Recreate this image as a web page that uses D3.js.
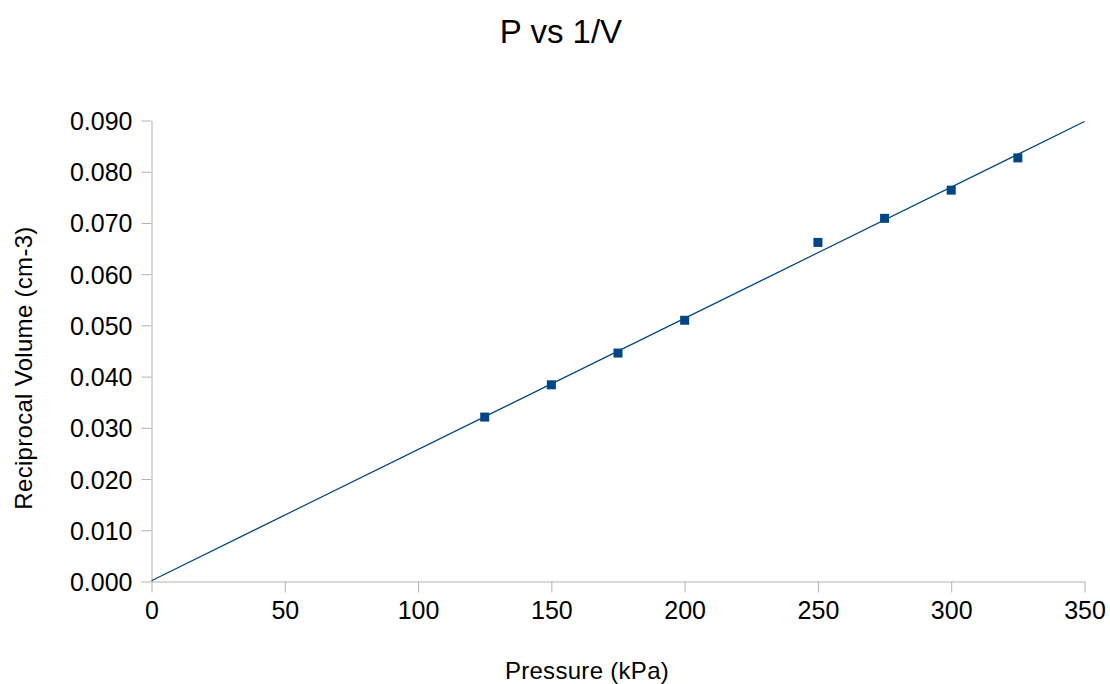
<!DOCTYPE html>
<html>
<head>
<meta charset="utf-8">
<script src="https://cdn.jsdelivr.net/npm/d3@7"></script>
<style>
  body { margin: 0; background: #fff; }
  svg { display: block; font-family: "Liberation Sans", Arial, sans-serif; }
</style>
</head>
<body>
<svg id="chart"></svg>
<script>
// data
const pressure = [125, 150, 175, 200, 250, 275, 300, 325];
const recipVolume = [0.0321, 0.0384, 0.0446, 0.0510, 0.0662, 0.0709, 0.0764, 0.0827];
const xTicks = [0, 50, 100, 150, 200, 250, 300, 350];
const yTicks = [0, 0.01, 0.02, 0.03, 0.04, 0.05, 0.06, 0.07, 0.08, 0.09];

const width = 1110;
const height = 684;
const margin = {top: 120.5, right: 25.5, bottom: 102.5, left: 151.5};

const svg = d3.select("#chart")
    .attr("width", width)
    .attr("height", height);

const xScale = d3.scaleLinear()
    .domain([0, 350])
    .range([margin.left, width - margin.right]);

const yScale = d3.scaleLinear()
    .domain([0, 0.09])
    .range([height - margin.bottom, margin.top]);

// x axis
const xAxis = d3.axisBottom(xScale)
    .tickValues(xTicks)
    .tickFormat(d3.format("d"))
    .tickSize(11)
    .tickSizeOuter(0)
    .tickPadding(9);
const gx = svg.append("g")
    .attr("transform", "translate(0," + (height - margin.bottom) + ")")
    .call(xAxis);

// y axis
const yAxis = d3.axisLeft(yScale)
    .tickValues(yTicks)
    .tickFormat(d3.format(".3f"))
    .tickSize(10)
    .tickSizeOuter(0)
    .tickPadding(9);
const gy = svg.append("g")
    .attr("transform", "translate(" + margin.left + ",0)")
    .call(yAxis);

[gx, gy].forEach(g => {
    g.select(".domain").attr("stroke", "#b3b3b3");
    g.selectAll(".tick line").attr("stroke", "#b3b3b3");
    g.selectAll(".tick text")
        .attr("fill", "#000")
        .style("font-size", "25px");
});
gy.selectAll(".tick text").attr("dy", "0.36em");

// linear trend line (least squares)
const n = pressure.length;
const mx = d3.mean(pressure);
const my = d3.mean(recipVolume);
let sxy = 0, sxx = 0;
for (let i = 0; i < n; i++) {
    sxy += (pressure[i] - mx) * (recipVolume[i] - my);
    sxx += (pressure[i] - mx) * (pressure[i] - mx);
}
const slope = sxy / sxx;
const intercept = my - slope * mx;

svg.append("line")
    .attr("x1", xScale(0))
    .attr("y1", yScale(intercept))
    .attr("x2", xScale(350))
    .attr("y2", yScale(intercept + slope * 350))
    .attr("stroke", "#004586")
    .attr("stroke-width", 1.2);

// markers
const size = 9;
svg.selectAll("rect.pt")
    .data(pressure)
    .enter()
    .append("rect")
    .attr("class", "pt")
    .attr("x", (d) => xScale(d) - size / 2)
    .attr("y", (d, i) => yScale(recipVolume[i]) - size / 2)
    .attr("width", size)
    .attr("height", size)
    .attr("fill", "#004586");

// titles
svg.append("text")
    .attr("x", 561)
    .attr("y", 43)
    .attr("text-anchor", "middle")
    .style("font-size", "33px")
    .text("P vs 1/V");

svg.append("text")
    .attr("x", 587)
    .attr("y", 679)
    .attr("text-anchor", "middle")
    .style("font-size", "24px")
    .style("letter-spacing", "0.3px")
    .text("Pressure (kPa)");

svg.append("text")
    .attr("transform", "translate(32,368) rotate(-90)")
    .attr("text-anchor", "middle")
    .style("font-size", "24px")
    .style("letter-spacing", "0.3px")
    .text("Reciprocal Volume (cm-3)");
</script>
</body>
</html>
